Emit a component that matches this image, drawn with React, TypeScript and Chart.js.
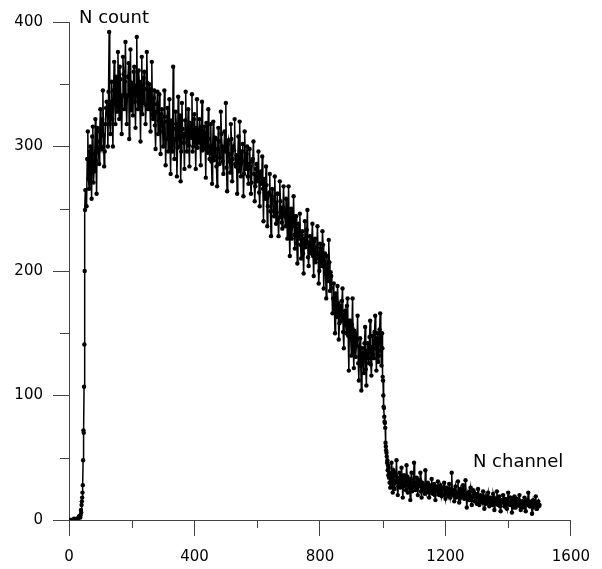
import { useEffect, useRef } from "react";
import { Chart, registerables } from "chart.js";

Chart.register(...registerables);

// Spectrum counts per channel, stored in segments (start channel, channel step, counts)
const baselineCounts = [0, 0, 0, 0, 1, 0, 1, 1, 3]; // ch 0..32, step 4

const riseCounts = [
  2, 4, 8, 6, 12, 15, 18, 22, 28, 48, 72, 70, 107, 141, 200, 249, 265,
]; // ch 36..52, step 1

const plateauCounts = [
  // ch 56..92
  252, 312, 266, 300, 258, 316, 280, 322, 262, 304,
  // ch 96..132
  286, 330, 298, 345, 284, 318, 336, 300, 392, 310,
  // ch 136..172
  352, 300, 368, 318, 340, 376, 322, 354, 310, 372,
  // ch 176..212
  330, 384, 318, 356, 306, 378, 340, 325, 364, 315,
  // ch 216..252
  388, 330, 352, 304, 372, 335, 360, 318, 376, 330,
  // ch 256..292
  350, 312, 368, 322, 345, 298, 334, 310, 342, 294,
  // ch 296..332
  330, 300, 345, 285, 320, 296, 338, 278, 312, 364,
  // ch 336..372
  290, 328, 276, 340, 300, 272, 335, 310, 282, 344,
  // ch 376..412
  296, 330, 284, 318, 342, 300, 326, 282, 338, 305,
  // ch 416..452
  322, 285, 336, 298, 316, 275, 310, 330, 290, 318,
  // ch 456..492
  270, 320, 292, 306, 268, 315, 286, 328, 300, 278,
  // ch 496..532
  312, 335, 264, 305, 288, 318, 272, 300, 322, 284,
  // ch 536..572
  262, 308, 320, 276, 296, 260, 312, 282, 300, 270,
  // ch 576..612
  298, 262, 288, 304, 256, 282, 272, 296, 252, 280,
  // ch 616..652
  292, 240, 270, 284, 236, 262, 278, 228, 266, 248,
  // ch 656..692
  276, 238, 262, 228, 272, 250, 234, 268, 244, 258,
  // ch 696..732
  226, 268, 212, 250, 236, 260, 218, 244, 206, 238,
  // ch 736..772
  246, 210, 232, 198, 240, 222, 249, 204, 228, 214,
  // ch 776..812
  238, 196, 226, 210, 236, 190, 222, 204, 232, 186,
  // ch 816..852
  214, 178, 205, 225, 184, 196, 166, 190, 150, 176,
  // ch 856..892
  188, 145, 172, 160, 186, 138, 168, 150, 178, 120,
  // ch 896..932
  160, 132, 178, 122, 150, 140, 164, 112, 146, 104,
  // ch 936..972
  138, 118, 155, 108, 142, 126, 160, 116, 148, 130,
  // ch 976..996
  164, 120, 150, 132, 166, 124,
]; // ch 56..996, step 4

const plateauCountsOdd = [
  // ch 58..94
  290, 274, 296, 282, 308, 271, 294, 289, 315, 296,
  // ch 98..134
  312, 300, 322, 309, 296, 331, 326, 344, 318, 336,
  // ch 138..174
  322, 345, 336, 356, 328, 349, 364, 333, 341, 358,
  // ch 178..214
  352, 338, 341, 367, 352, 329, 351, 360, 336, 349,
  // ch 218..254
  342, 361, 338, 349, 326, 355, 346, 333, 351, 341,
  // ch 258..294
  333, 346, 325, 339, 317, 328, 344, 321, 312, 326,
  // ch 298..334
  318, 311, 324, 306, 331, 315, 302, 321, 296, 314,
  // ch 338..374
  306, 318, 299, 312, 325, 296, 314, 303, 321, 309,
  // ch 378..414
  312, 301, 319, 307, 296, 322, 310, 315, 299, 313,
  // ch 418..454
  303, 316, 297, 311, 302, 319, 295, 306, 300, 288,
  // ch 458..494
  301, 289, 307, 284, 298, 304, 291, 310, 288, 299,
  // ch 498..534
  296, 283, 302, 294, 279, 306, 290, 297, 286, 293,
  // ch 538..574
  291, 280, 296, 287, 302, 278, 289, 294, 276, 286,
  // ch 578..614
  284, 271, 290, 278, 268, 286, 274, 263, 279, 270,
  // ch 618..654
  266, 274, 258, 269, 252, 263, 248, 260, 257, 244,
  // ch 658..694
  255, 247, 262, 243, 256, 239, 251, 247, 236, 249,
  // ch 698..734
  241, 232, 247, 226, 238, 229, 244, 222, 233, 226,
  // ch 738..774
  221, 229, 214, 226, 219, 233, 211, 223, 216, 226,
  // ch 778..814
  212, 224, 207, 219, 215, 200, 218, 209, 221, 203,
  // ch 818..854
  198, 212, 192, 207, 199, 186, 178, 169, 182, 163,
  // ch 858..894
  174, 158, 169, 176, 151, 165, 157, 172, 148, 160,
  // ch 898..934
  146, 157, 138, 152, 131, 145, 126, 139, 124, 133,
  // ch 938..974
  128, 142, 121, 136, 130, 147, 125, 139, 133, 151,
  // ch 978..994
  138, 146, 127, 153, 136,
]; // ch 58..994, step 4

const edgeCounts = [
  150, 138, 115, 112, 100, 91, 90, 83, 79, 78, 74, 62, 59, 56, 54, 51, 46, 48,
  40, 44, 36, 42, 34, 38, 30,
]; // ch 998..1022, step 1

const tailCounts = [
  // ch 1024..1060
  26, 46, 22, 38, 30, 48, 20, 34, 26, 42,
  // ch 1064..1100
  18, 36, 28, 44, 22, 32, 16, 38, 26, 46,
  // ch 1104..1140
  24, 34, 20, 30, 38, 18, 28, 24, 40, 22,
  // ch 1144..1180
  30, 18, 27, 33, 21, 29, 16, 26, 31, 20,
  // ch 1184..1220
  28, 19, 25, 30, 17, 26, 21, 29, 18, 38,
  // ch 1224..1260
  24, 15, 27, 20, 31, 14, 25, 19, 28, 17,
  // ch 1264..1300
  32, 10, 22, 16, 26, 12, 24, 18, 21, 13,
  // ch 1304..1340
  25, 12, 20, 16, 23, 9, 19, 14, 22, 11,
  // ch 1344..1380
  18, 13, 21, 8, 17, 23, 12, 19, 7, 16,
  // ch 1384..1420
  20, 11, 17, 9, 22, 13, 18, 6, 15, 19,
  // ch 1424..1460
  10, 17, 12, 20, 8, 15, 13, 18, 7, 16,
  // ch 1464..1500
  22, 11, 14, 5, 16, 12, 19, 9, 15, 12,
]; // ch 1024..1500, step 4

const tailCountsOdd = [
  // ch 1026..1062
  34, 29, 40, 25, 36, 31, 27, 38, 30, 33,
  // ch 1066..1102
  27, 31, 24, 35, 29, 26, 33, 23, 30, 27,
  // ch 1106..1142
  29, 25, 32, 27, 23, 30, 26, 21, 28, 25,
  // ch 1146..1182
  24, 28, 22, 26, 25, 20, 27, 23, 21, 26,
  // ch 1186..1222
  23, 21, 26, 20, 24, 22, 19, 25, 21, 23,
  // ch 1226..1262
  20, 24, 18, 22, 21, 17, 23, 19, 22, 18,
  // ch 1266..1302
  21, 17, 20, 23, 16, 19, 22, 15, 18, 20,
  // ch 1306..1342
  17, 15, 19, 14, 18, 16, 13, 19, 15, 17,
  // ch 1346..1382
  16, 12, 18, 15, 13, 17, 14, 11, 16, 14,
  // ch 1386..1422
  15, 13, 11, 16, 14, 12, 17, 13, 10, 15,
  // ch 1426..1462
  14, 12, 16, 11, 13, 15, 10, 14, 12, 16,
  // ch 1466..1498
  13, 11, 15, 10, 14, 12, 9, 13, 11,
]; // ch 1026..1498, step 4

const segments = [
  { start: 0, step: 4, counts: baselineCounts },
  { start: 36, step: 1, counts: riseCounts },
  { start: 56, step: 4, counts: plateauCounts },
  { start: 58, step: 4, counts: plateauCountsOdd },
  { start: 998, step: 1, counts: edgeCounts },
  { start: 1024, step: 4, counts: tailCounts },
  { start: 1026, step: 4, counts: tailCountsOdd },
];

const xTicks = [0, 400, 800, 1200, 1600];
const yTicks = [0, 100, 200, 300, 400];
const xMinorTicks = [200, 600, 1000, 1400];
const yMinorTicks = [50, 150, 250, 350];

const yTitle = "N count";
const xTitle = "N channel";

const axisColor = "#444";
const fontFamily = "'DejaVu Sans', Verdana, sans-serif";

const points = segments
  .flatMap((s) => s.counts.map((c, i) => ({ x: s.start + i * s.step, y: c })))
  .sort((a, b) => a.x - b.x);

const decorations = {
  id: "decorations",
  afterDraw(chart: any) {
    const { ctx, chartArea, scales } = chart;
    const xs = scales.x;
    const ys = scales.y;
    ctx.save();
    ctx.strokeStyle = axisColor;
    ctx.lineWidth = 1;
    ctx.beginPath();
    for (const v of xMinorTicks) {
      const px = Math.round(xs.getPixelForValue(v)) + 0.5;
      ctx.moveTo(px, chartArea.bottom);
      ctx.lineTo(px, chartArea.bottom + 8);
    }
    for (const v of yMinorTicks) {
      const py = Math.round(ys.getPixelForValue(v)) + 0.5;
      ctx.moveTo(chartArea.left - 9, py);
      ctx.lineTo(chartArea.left, py);
    }
    ctx.stroke();

    ctx.fillStyle = "#000";
    ctx.font = `18px ${fontFamily}`;
    ctx.textBaseline = "middle";
    ctx.textAlign = "left";
    ctx.fillText(yTitle, chartArea.left + 10, chartArea.top - 4);
    ctx.fillText(xTitle, chartArea.right - 98, chartArea.bottom - 58);
    ctx.restore();
  },
};

export default function App() {
  const canvasRef = useRef<HTMLCanvasElement | null>(null);

  useEffect(() => {
    const canvas = canvasRef.current;
    if (!canvas) return;
    const chart = new Chart(canvas, {
      type: "line",
      data: {
        datasets: [
          {
            data: points,
            borderColor: "#000",
            backgroundColor: "#000",
            borderWidth: 1.5,
            pointRadius: 2.2,
            pointBorderWidth: 0,
            pointBackgroundColor: "#000",
            tension: 0,
          },
        ],
      },
      options: {
        responsive: false,
        animation: false,
        events: [],
        layout: { padding: { top: 22, right: 26, left: 0, bottom: 0 } },
        plugins: {
          legend: { display: false },
          tooltip: { enabled: false },
        },
        scales: {
          x: {
            type: "linear",
            min: 0,
            max: 1600,
            afterBuildTicks: (scale: any) => {
              scale.ticks = xTicks.map((v) => ({ value: v }));
            },
            afterFit: (scale: any) => {
              scale.height = 49;
            },
            ticks: {
              color: "#000",
              font: { family: fontFamily, size: 15 },
              padding: 12,
              maxRotation: 0,
              callback: (v: any) => String(v),
            },
            grid: {
              drawOnChartArea: false,
              drawTicks: true,
              tickLength: 16,
              color: axisColor,
              lineWidth: 1,
            },
            border: { display: true, color: axisColor, width: 1 },
          },
          y: {
            type: "linear",
            min: 0,
            max: 400,
            afterBuildTicks: (scale: any) => {
              scale.ticks = yTicks.map((v) => ({ value: v }));
            },
            afterFit: (scale: any) => {
              scale.width = 69;
            },
            ticks: {
              color: "#000",
              font: { family: fontFamily, size: 15 },
              padding: 10,
              callback: (v: any) => String(v),
            },
            grid: {
              drawOnChartArea: false,
              drawTicks: true,
              tickLength: 16,
              color: axisColor,
              lineWidth: 1,
            },
            border: { display: true, color: axisColor, width: 1 },
          },
        },
      },
      plugins: [decorations],
    });
    return () => chart.destroy();
  }, []);

  return (
    <div
      style={{
        position: "fixed",
        left: 0,
        top: 0,
        width: 602,
        height: 569,
        background: "#fff",
      }}
    >
      <canvas
        ref={canvasRef}
        width={602}
        height={569}
        style={{ display: "block", width: 602, height: 569 }}
      />
    </div>
  );
}
